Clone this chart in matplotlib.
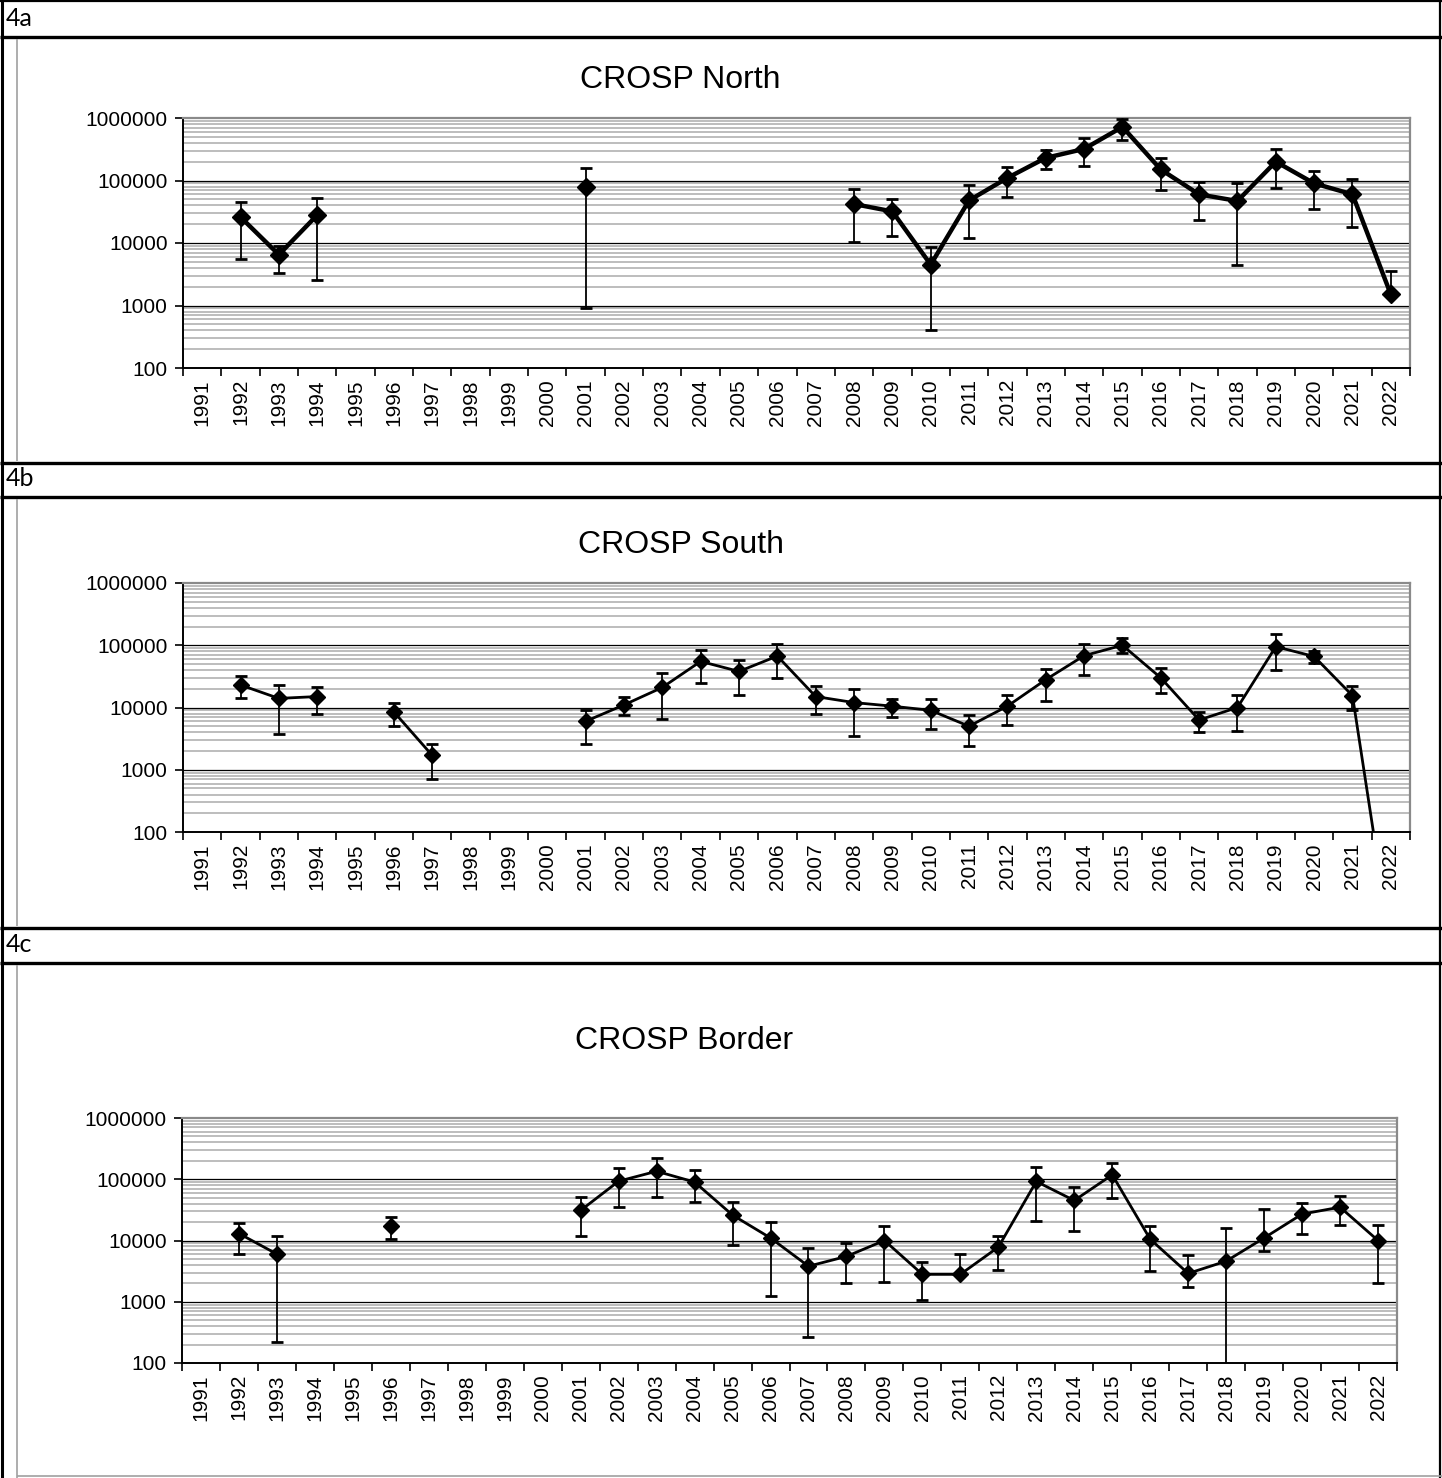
import numpy as np
import matplotlib
matplotlib.use("Agg")
import matplotlib.pyplot as plt
from matplotlib.lines import Line2D
from matplotlib.ticker import NullFormatter, FixedLocator, FixedFormatter

years = ["1991", "1992", "1993", "1994", "1995", "1996", "1997", "1998", "1999", "2000",
         "2001", "2002", "2003", "2004", "2005", "2006", "2007", "2008", "2009", "2010",
         "2011", "2012", "2013", "2014", "2015", "2016", "2017", "2018", "2019", "2020",
         "2021", "2022"]

N = None
# CROSP North (4a)
north_val = [N, 26000, 6500, 28000, N, N, N, N, N, N,
             80000, N, N, N, N, N, N, 42000, 32000, 4500,
             48000, 110000, 230000, 320000, 720000, 150000, 60000, 47000, 200000, 90000,
             60000, 1500]
north_lo = [N, 5500, 3300, 2600, N, N, N, N, N, N,
            900, N, N, N, N, N, N, 10500, 13000, 400,
            12000, 55000, 150000, 170000, 450000, 70000, 23000, 4500, 75000, 35000,
            18000, 1500]
north_hi = [N, 45000, 9000, 52000, N, N, N, N, N, N,
            160000, N, N, N, N, N, N, 72000, 50000, 8500,
            85000, 165000, 310000, 480000, 950000, 230000, 95000, 90000, 320000, 140000,
            105000, 3500]

# CROSP South (4b)
south_val = [N, 23000, 14000, 15000, N, 8500, 1700, N, N, N,
             6000, 11000, 21000, 55000, 38000, 67000, 15000, 12000, 10500, 9000,
             5000, 10500, 28000, 68000, 100000, 30000, 6300, 10000, 95000, 66000,
             15500, 1.5]
south_lo = [N, 14000, 3800, 7800, N, 5000, 700, N, N, N,
            2600, 7500, 6500, 25000, 16000, 30000, 8000, 3500, 7000, 4500,
            2400, 5300, 12500, 33000, 75000, 17000, 4000, 4200, 40000, 52000,
            9000, N]
south_hi = [N, 32000, 23000, 21000, N, 12000, 2600, N, N, N,
            9000, 15000, 36000, 85000, 58000, 105000, 22000, 20000, 13500, 13500,
            7500, 16000, 42000, 105000, 130000, 43000, 8500, 16000, 150000, 82000,
            22000, N]

# CROSP Border (4c)
border_val = [N, 13000, 6000, N, N, 17000, N, N, N, N,
              31000, 93000, 135000, 90000, 26000, 11000, 3800, 5500, 10000, 2800,
              2800, 7800, 92000, 45000, 118000, 10500, 2900, 4600, 11000, 27000,
              35000, 10000]
border_lo = [N, 6000, 220, N, N, 10500, N, N, N, N,
             12000, 35000, 52000, 43000, 8500, 1250, 270, 2000, 2100, 1050,
             2800, 3300, 21000, 14500, 50000, 3200, 1750, 50, 6800, 13000,
             18000, 2000]
border_hi = [N, 19500, 12000, N, N, 24000, N, N, N, N,
             51000, 150000, 220000, 140000, 43000, 20000, 7500, 9000, 17500, 4500,
             6000, 12000, 160000, 76000, 185000, 17000, 5700, 16000, 33000, 41000,
             53000, 18000]

panel_labels = ["4a", "4b", "4c"]
titles = ["CROSP North", "CROSP South", "CROSP Border"]
ytick_vals = [100, 1000, 10000, 100000, 1000000]
ytick_labels = ["100", "1000", "10000", "100000", "1000000"]

W, H = 1442, 1478
fig = plt.figure(figsize=(W / 100, H / 100), dpi=100)
fig.patch.set_facecolor("white")

def fx(x):
    return x / W

def fy(y):
    return 1 - y / H

def hline(y, x0, x1, color="black", lw=2.2):
    fig.add_artist(Line2D([fx(x0), fx(x1)], [fy(y), fy(y)], color=color, lw=lw,
                          transform=fig.transFigure, solid_capstyle="butt"))

def vline(x, y0, y1, color="black", lw=2.2):
    fig.add_artist(Line2D([fx(x), fx(x)], [fy(y0), fy(y1)], color=color, lw=lw,
                          transform=fig.transFigure, solid_capstyle="butt"))

def arr(v):
    return np.array([np.nan if a is None else a for a in v], dtype=float)

# table frame
vline(2, 0, H, lw=2.2)
vline(1440, 0, H, lw=1.6)
hline(1, 0, W, lw=1.6)
for y in [37, 463, 497, 928, 963]:
    hline(y, 0, W, lw=2.4)
# chart-object grey borders
for (y0, y1) in [(39, 461), (499, 926), (965, H)]:
    vline(17, y0, y1, color="#a0a0a0", lw=1.2)
hline(1476, 17, W, color="#a0a0a0", lw=1.2)

# panel labels
for lab, y in zip(panel_labels, [19, 479, 945]):
    fig.text(fx(6), fy(y), lab, fontsize=18, family="Lato", va="center", ha="left")

axes_px = [(183, 1410, 118, 368), (183, 1410, 583, 832), (182, 1397, 1118, 1363)]
title_pos = [(680, 80), (681, 545), (684, 1041)]
series = [(north_val, north_lo, north_hi, 3.2, 9.5),
          (south_val, south_lo, south_hi, 2.0, 8.0),
          (border_val, border_lo, border_hi, 2.0, 8.0)]

x = np.arange(len(years)) + 0.5

for (l, r, t, b), (tx, ty), title, (val, lo, hi, lw, ms) in zip(axes_px, title_pos, titles, series):
    ax = fig.add_axes([fx(l), fy(b), fx(r) - fx(l), (b - t) / H])
    ax.set_yscale("log")
    ax.set_ylim(100, 1000000)
    ax.set_xlim(0, len(years))
    ax.set_facecolor("white")

    # gridlines
    for dec in [100, 1000, 10000, 100000]:
        for m in range(2, 10):
            ax.axhline(dec * m, color="#b8b8b8", lw=1.3, zorder=0.5)
    for dec in [1000, 10000, 100000]:
        ax.axhline(dec, color="black", lw=0.9, zorder=0.6)

    v = arr(val)
    lo_a = arr(lo)
    hi_a = arr(hi)
    m = ~np.isnan(lo_a) & ~np.isnan(v)
    ax.errorbar(x[m], v[m], yerr=[v[m] - lo_a[m], hi_a[m] - v[m]], fmt="none",
                ecolor="black", elinewidth=1.3, capsize=4.5, capthick=2.0, zorder=3)
    ax.plot(x, v, color="black", lw=lw, zorder=4, clip_on=True)
    ax.plot(x, v, linestyle="none", marker="D", color="black", markersize=ms, zorder=5)

    # spines
    for s in ["left", "bottom"]:
        ax.spines[s].set_color("black")
        ax.spines[s].set_linewidth(1.4)
    for s in ["top", "right"]:
        ax.spines[s].set_color("#8a8a8a")
        ax.spines[s].set_linewidth(1.6)

    # y ticks
    ax.yaxis.set_major_locator(FixedLocator(ytick_vals))
    ax.yaxis.set_major_formatter(FixedFormatter(ytick_labels))
    ax.yaxis.set_minor_locator(FixedLocator([]))
    ax.tick_params(axis="y", which="major", direction="out", length=6, width=1.2,
                   labelsize=15, pad=5)

    # x ticks: boundaries with marks, centers with labels
    ax.xaxis.set_major_locator(FixedLocator(np.arange(len(years) + 1)))
    ax.xaxis.set_major_formatter(NullFormatter())
    ax.xaxis.set_minor_locator(FixedLocator(x))
    ax.xaxis.set_minor_formatter(FixedFormatter(years))
    ax.tick_params(axis="x", which="major", direction="out", length=6, width=1.2)
    ax.tick_params(axis="x", which="minor", length=0, labelsize=15, pad=8,
                   labelrotation=90)
    for lab in ax.get_xticklabels(minor=True):
        lab.set_fontfamily("Liberation Sans")
    for lab in ax.get_yticklabels():
        lab.set_fontfamily("Liberation Sans")

    fig.text(fx(tx), fy(ty), title, fontsize=23, family="Liberation Sans",
             ha="center", va="center")

fig.savefig("out.png", dpi=100, facecolor="white")
